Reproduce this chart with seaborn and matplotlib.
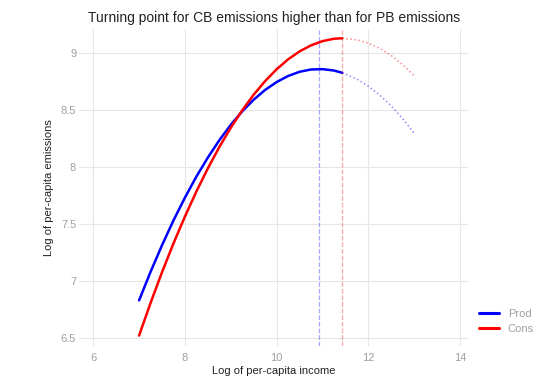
import pandas as pd
import numpy as np
import matplotlib.pyplot as plt
import seaborn as sns

# values
x_solid = [7, 7.25, 7.5, 7.75, 8, 8.25, 8.5, 8.75, 9, 9.25, 9.5, 9.75,
           10, 10.25, 10.5, 10.75, 11, 11.25, 11.43]
prod_solid = [6.829, 7.079, 7.313, 7.531, 7.731, 7.916, 8.083, 8.235, 8.370, 8.489,
              8.591, 8.677, 8.746, 8.799, 8.836, 8.856, 8.859, 8.847, 8.827]
cons_solid = [6.520, 6.806, 7.076, 7.329, 7.565, 7.785, 7.988, 8.175, 8.345, 8.498,
              8.635, 8.755, 8.858, 8.945, 9.015, 9.068, 9.105, 9.126, 9.130]

x_dotted = [11.43, 11.75, 12, 12.25, 12.5, 12.75, 13]
prod_dotted = [8.827, 8.772, 8.709, 8.631, 8.536, 8.424, 8.296]
cons_dotted = [9.130, 9.116, 9.087, 9.041, 8.978, 8.898, 8.802]

turning_points = {"Prod": 10.93, "Cons": 11.43}
x_ticks = [6, 8, 10, 12, 14]
y_ticks = [6.5, 7, 7.5, 8, 8.5, 9]
y_tick_labels = ["6.5", "7", "7.5", "8", "8.5", "9"]

colors = {"Prod": "blue", "Cons": "red"}

solid = pd.DataFrame({
    "income": x_solid * 2,
    "emissions": prod_solid + cons_solid,
    "series": ["Prod"] * len(x_solid) + ["Cons"] * len(x_solid),
})
dotted = pd.DataFrame({
    "income": x_dotted * 2,
    "emissions": prod_dotted + cons_dotted,
    "series": ["Prod"] * len(x_dotted) + ["Cons"] * len(x_dotted),
})

sns.set_theme(style="whitegrid")
plt.rcParams["font.family"] = ["Liberation Sans", "DejaVu Sans"]

fig = plt.figure(figsize=(5.51, 3.89), dpi=100)
ax = fig.add_axes([0.1434, 0.111, 0.7065, 0.814])

sns.lineplot(data=solid, x="income", y="emissions", hue="series",
             palette=colors, linewidth=1.8, ax=ax)
sns.lineplot(data=dotted, x="income", y="emissions", hue="series",
             palette=colors, linewidth=1.1, linestyle=":", alpha=0.45,
             legend=False, ax=ax)

for name, xv in turning_points.items():
    ax.axvline(xv, color=colors[name], linestyle="--", linewidth=0.9, alpha=0.35)

ax.set_xlim(5.69, 14.18)
ax.set_ylim(6.43, 9.21)
ax.set_xticks(x_ticks)
ax.set_yticks(y_ticks)
ax.set_yticklabels(y_tick_labels)
ax.tick_params(axis="both", colors="#a0a0a0", labelsize=8, length=0)
ax.tick_params(axis="x", pad=5)
ax.tick_params(axis="y", pad=2)
ax.grid(color="#e6e6e6", linewidth=0.8)
for s in ax.spines.values():
    s.set_visible(False)

ax.set_xlabel("Log of per-capita income", fontsize=8, color="#222222", labelpad=2)
ax.set_ylabel("Log of per-capita emissions", fontsize=8, color="#222222", labelpad=5)
fig.text(0.497, 0.954, "Turning point for CB emissions higher than for PB emissions",
         ha="center", va="center", fontsize=10, color="#222222")

leg = ax.legend(loc="center left", bbox_to_anchor=(0.869, 0.174),
                bbox_transform=fig.transFigure, frameon=False, fontsize=8,
                handlelength=1.8, labelspacing=0.4, borderaxespad=0, borderpad=0,
                title=None)
for t in leg.get_texts():
    t.set_color("#a0a0a0")
for line in leg.get_lines():
    line.set_linewidth(2.2)

plt.savefig("out.png", dpi=100)
